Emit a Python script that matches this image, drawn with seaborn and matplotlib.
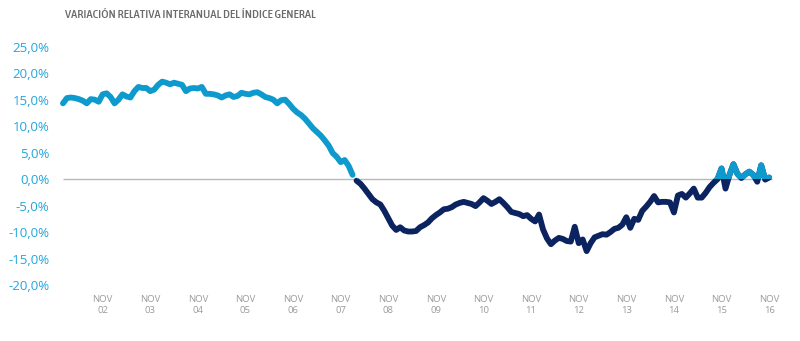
import numpy as np
import pandas as pd
import matplotlib
matplotlib.use("Agg")
import matplotlib.pyplot as plt
from matplotlib import font_manager
from matplotlib.patches import Rectangle
import seaborn as sns

# ---- data (monthly, Jan 2002 - Nov 2016), % year-on-year change ----
values = [
    14.3, 15.3, 15.4, 15.3, 15.1, 14.8, 14.3, 15.1, 15.0, 14.6, 16.0, 16.2,
    15.5, 14.3, 15.0, 16.0, 15.6, 15.4, 16.6, 17.4, 17.2, 17.2, 16.6, 16.9,
    17.8, 18.4, 18.2, 17.9, 18.2, 18.0, 17.8, 16.6, 17.1, 17.2, 17.1, 17.4,
    16.1, 16.1, 16.0, 15.8, 15.4, 15.8, 16.0, 15.5, 15.7, 16.3, 16.1, 16.0,
    16.3, 16.4, 16.0, 15.5, 15.3, 15.0, 14.3, 14.9, 15.0, 14.2, 13.3, 12.6,
    12.1, 11.4, 10.5, 9.6, 8.9, 8.2, 7.3, 6.3, 4.9, 4.2, 3.2, 3.6,
    2.5, 0.8, -0.3, -0.9, -1.8, -2.8, -3.8, -4.4, -4.8, -6.0, -7.4, -8.8,
    -9.6, -9.1, -9.7, -9.9, -9.9, -9.8, -9.1, -8.7, -8.2, -7.4, -6.8, -6.3,
    -5.7, -5.6, -5.3, -4.8, -4.5, -4.3, -4.5, -4.7, -5.1, -4.4, -3.6, -4.1,
    -4.7, -4.3, -3.8, -4.5, -5.3, -6.2, -6.4, -6.6, -7.0, -6.8, -7.5, -8.0,
    -6.7, -9.5, -11.2, -12.3, -11.6, -11.1, -11.3, -11.7, -11.8, -9.0, -12.1, -11.4,
    -13.6, -12.1, -11.0, -10.7, -10.4, -10.5, -10.0, -9.4, -9.2, -8.6, -7.2, -9.2,
    -7.5, -7.7, -6.0, -5.2, -4.3, -3.2, -4.4, -4.3, -4.3, -4.4, -6.3, -3.1,
    -2.8, -3.5, -2.7, -1.8, -3.5, -3.5, -2.6, -1.5, -0.7, 0.0, 2.0, -1.8,
    0.8, 2.8, 1.0, 0.2, 0.9, 1.4, 0.8, -0.5, 2.6, -0.1, 0.3,
]
dates = pd.date_range("2002-01-01", periods=len(values), freq="MS")
split_index = 74  # first month of the dark (2008 onward) series

y_ticks = [-20, -15, -10, -5, 0, 5, 10, 15, 20, 25]
y_tick_labels = ["-20,0%", "-15,0%", "-10,0%", "-5,0%", "0,0%",
                 "5,0%", "10,0%", "15,0%", "20,0%", "25,0%"]
x_tick_years = ["02", "03", "04", "05", "06", "07", "08", "09",
                "10", "11", "12", "13", "14", "15", "16"]
title = "VARIACIÓN RELATIVA INTERANUAL DEL ÍNDICE GENERAL"

LIGHT = "#0e9acd"
DARK = "#0b2460"
TICK_BLUE = "#25a5dc"
GREY_TXT = "#9a9a9a"

df = pd.DataFrame({"date": dates, "value": values})
df["idx"] = np.arange(len(df))
df_a = df.iloc[:split_index]
df_b = df.iloc[split_index:]

sns.set_theme(style="white")
plt.rcParams["font.family"] = ["Open Sans", "DejaVu Sans"]


def _w(v):
    try:
        return int(v)
    except Exception:
        return {"light": 300, "normal": 400, "regular": 400, "medium": 500,
                "semibold": 600, "bold": 700}.get(str(v).lower(), 400)


# look for an upright condensed face for the title
cands = []
for f in font_manager.fontManager.ttflist:
    nm = f.name.lower()
    st = str(f.stretch).lower()
    if ("narrow" in nm or "condensed" in nm or st in ("condensed", "semi-condensed")) \
            and str(f.style).lower() == "normal":
        cands.append((abs(_w(f.weight) - 500), f.fname))
cands.sort()

fig = plt.figure(figsize=(8.0, 3.41), dpi=100)
ax = fig.add_axes([0.07375, 0.1642, 0.8976, 0.6989])

ax.hlines(0, df["idx"].iloc[0], df["idx"].iloc[-1] + 0.8, color="#b8b8b8", lw=1.0, zorder=1)

sns.lineplot(data=df_a, x="idx", y="value", ax=ax, color=LIGHT, lw=4.2,
             solid_capstyle="round", solid_joinstyle="round", zorder=3)
sns.lineplot(data=df_b, x="idx", y="value", ax=ax, color=DARK, lw=4.2,
             solid_capstyle="round", solid_joinstyle="round", zorder=3)
sns.lineplot(data=df_b, x="idx", y="value", ax=ax, color=LIGHT, lw=4.2,
             solid_capstyle="round", solid_joinstyle="round", zorder=4)
top_line = ax.get_lines()[-1]
clip = Rectangle((split_index, 0), len(values), 100, transform=ax.transData)
top_line.set_clip_path(clip)

ax.set_xlim(-1, 180)
ax.set_ylim(-20, 25)
ax.set_yticks(y_ticks)
ax.set_yticklabels(y_tick_labels)
nov_idx = [i for i, d in enumerate(dates) if d.month == 11]
ax.set_xticks(nov_idx)
ax.set_xticklabels([f"NOV\n{y}" for y in x_tick_years], linespacing=1.35)
ax.tick_params(axis="y", length=0, pad=7, labelsize=9.5, labelcolor=TICK_BLUE)
ax.tick_params(axis="x", length=0, pad=7, labelsize=6.8, labelcolor=GREY_TXT)
ax.set_xlabel("")
ax.set_ylabel("")
for s in ax.spines.values():
    s.set_visible(False)
ax.grid(False)

if cands:
    fp = font_manager.FontProperties(fname=cands[0][1], size=8.6)
else:
    fp = font_manager.FontProperties(family=["Roboto", "DejaVu Sans"], size=8.6)
t = fig.text(65 / 800, 1 - 15 / 341, title, ha="left", va="center",
             color="#6a6a6a", fontproperties=fp)
# fit the title to the reference width (about 250 px)
fig.canvas.draw()
w = t.get_window_extent().width
if w > 0:
    fp.set_size(min(8.6 * 250.0 / w, 9.5))
    t.set_fontproperties(fp)

fig.savefig("out.png", dpi=100)
